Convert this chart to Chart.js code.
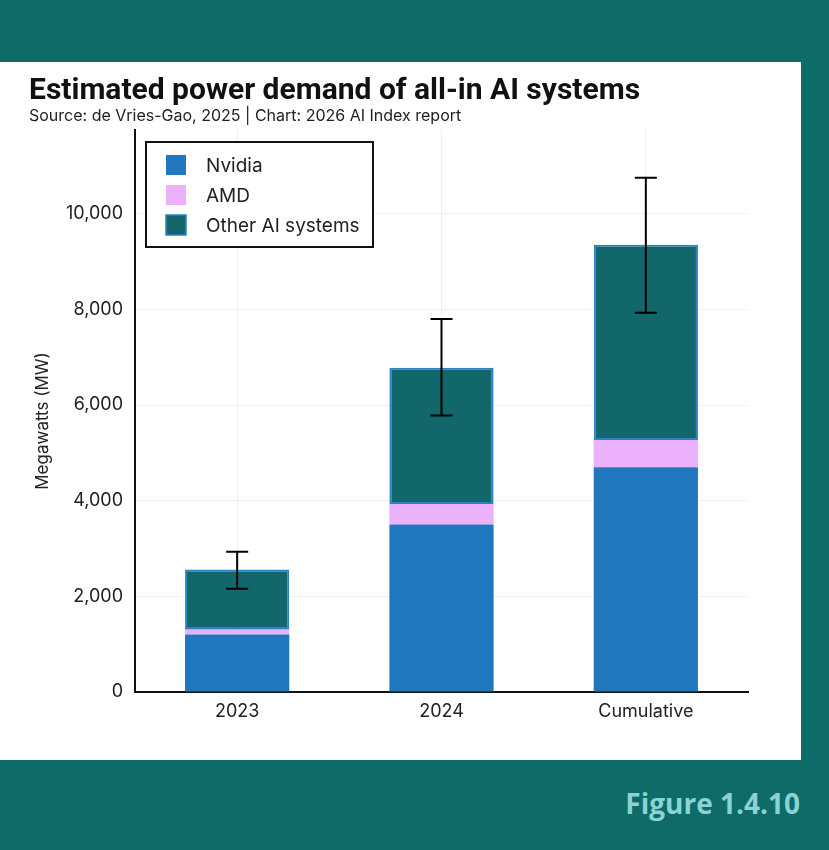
<!DOCTYPE html>
<html>
<head>
<meta charset="utf-8">
<script src="https://cdn.jsdelivr.net/npm/chart.js@4.4.1/dist/chart.umd.min.js"></script>
<style>
  html, body { margin: 0; padding: 0; }
  body { width: 829px; height: 850px; background: #0f6b68; position: relative; overflow: hidden; font-family: Inter, sans-serif; }
  #panel { position: absolute; left: 0; top: 62px; width: 801px; height: 698px; background: #fff; }
  #title { position: absolute; left: 29px; top: 9px; margin: 0; font: bold 30px Roboto, sans-serif; color: #111; white-space: nowrap; }
  #subtitle { position: absolute; left: 29px; top: 43px; margin: 0; font: 16px Inter, sans-serif; color: #222; white-space: nowrap; }
  #chart { position: absolute; left: 0; top: 0; }
  #figure { position: absolute; right: 29px; top: 784px; color: #8ad3d4; font: bold 28px "Open Sans", sans-serif; }
</style>
</head>
<body>
<div id="panel">
  <canvas id="chart" width="801" height="698"></canvas>
  <div id="title">Estimated power demand of all-in AI systems</div>
  <div id="subtitle">Source: de Vries-Gao, 2025 | Chart: 2026 AI Index report</div>
</div>
<div id="figure">Figure 1.4.10</div>
<script>
// Dados do gráfico
const categories = ["2023", "2024", "Cumulative"];
const nvidia = [1200, 3500, 4700];
const amd = [100, 430, 570];
const otherAI = [1260, 2850, 4080];
const errLow = [2160, 5780, 7930];
const errHigh = [2930, 7800, 10750];
const yTicks = [0, 2000, 4000, 6000, 8000, 10000];
const yTitle = "Megawatts (MW)";

const colors = {
  nvidia: "#1f77bd",
  amd: "#ebb1fb",
  other: "#12676a",
  otherBorder: "#2b82c4",
};

// Barras de erro sobre o total empilhado
const errorBars = {
  id: "errorBars",
  afterDatasetsDraw(chart) {
    const { ctx, scales } = chart;
    ctx.save();
    ctx.strokeStyle = "#000";
    ctx.lineWidth = 2;
    categories.forEach(function (c, i) {
      const x = scales.x.getPixelForValue(i);
      const yLo = scales.y.getPixelForValue(errLow[i]);
      const yHi = scales.y.getPixelForValue(errHigh[i]);
      ctx.beginPath();
      ctx.moveTo(x, yLo); ctx.lineTo(x, yHi);
      ctx.moveTo(x - 11, yLo); ctx.lineTo(x + 11, yLo);
      ctx.moveTo(x - 11, yHi); ctx.lineTo(x + 11, yHi);
      ctx.stroke();
    });
    ctx.restore();
  },
};

// Legenda desenhada dentro da área do gráfico + título do eixo Y
const boxLegend = {
  id: "boxLegend",
  afterDraw(chart) {
    const { ctx, chartArea } = chart;
    const x0 = chartArea.left + 11, y0 = chartArea.top + 12;
    ctx.save();
    ctx.fillStyle = "#fff";
    ctx.fillRect(x0, y0, 227, 105);
    ctx.strokeStyle = "#111";
    ctx.lineWidth = 2;
    ctx.strokeRect(x0, y0, 227, 105);
    ctx.font = "19px Inter, sans-serif";
    ctx.textBaseline = "middle";
    chart.data.datasets.forEach(function (ds, i) {
      const cy = y0 + 23 + i * 30;
      ctx.fillStyle = ds.backgroundColor;
      ctx.fillRect(x0 + 20, cy - 10, 20, 20);
      if (ds.borderWidth) {
        ctx.strokeStyle = ds.borderColor;
        ctx.lineWidth = 1.5;
        ctx.strokeRect(x0 + 20, cy - 10, 20, 20);
      }
      ctx.fillStyle = "#222";
      ctx.fillText(ds.label, x0 + 60, cy + 1);
    });

    // título do eixo Y, um pouco abaixo do centro como no original
    ctx.translate(43, (chartArea.top + chartArea.bottom) / 2 + 10);
    ctx.rotate(-Math.PI / 2);
    ctx.textAlign = "center";
    ctx.font = "17px Inter, sans-serif";
    ctx.fillText(yTitle, 0, 0);
    ctx.restore();
  },
};

new Chart(document.getElementById("chart"), {
  type: "bar",
  data: {
    labels: categories,
    datasets: [
      { label: "Nvidia", data: nvidia, backgroundColor: colors.nvidia, borderWidth: 0 },
      { label: "AMD", data: amd, backgroundColor: colors.amd, borderWidth: 0 },
      {
        label: "Other AI systems",
        data: otherAI,
        backgroundColor: colors.other,
        borderColor: colors.otherBorder,
        borderWidth: 2,
        borderSkipped: false,
      },
    ],
  },
  options: {
    responsive: false,
    animation: false,
    datasets: { bar: { barPercentage: 0.51, categoryPercentage: 1 } },
    layout: { padding: { left: 0, right: 53, bottom: 38, top: 68 } },
    plugins: {
      legend: { display: false },
      tooltip: { enabled: false },
    },
    scales: {
      x: {
        stacked: true,
        afterFit(scale) { scale.height = 30; },
        grid: { offset: false, color: "#efefef", drawTicks: false },
        border: { color: "#111", width: 2 },
        ticks: { color: "#222", font: { family: "Inter", size: 18 }, padding: 9 },
      },
      y: {
        stacked: true,
        min: 0,
        max: 11750,
        afterBuildTicks(scale) {
          scale.ticks = yTicks.map(function (v) { return { value: v }; });
        },
        afterFit(scale) { scale.width = 135; },
        grid: { color: "#efefef", drawTicks: false },
        border: { color: "#111", width: 2 },
        ticks: {
          color: "#222",
          font: { family: "Inter", size: 18 },
          padding: 12,
          callback: function (v) { return v.toLocaleString("en-US"); },
        },
      },
    },
  },
  plugins: [errorBars, boxLegend],
});
</script>
</body>
</html>
